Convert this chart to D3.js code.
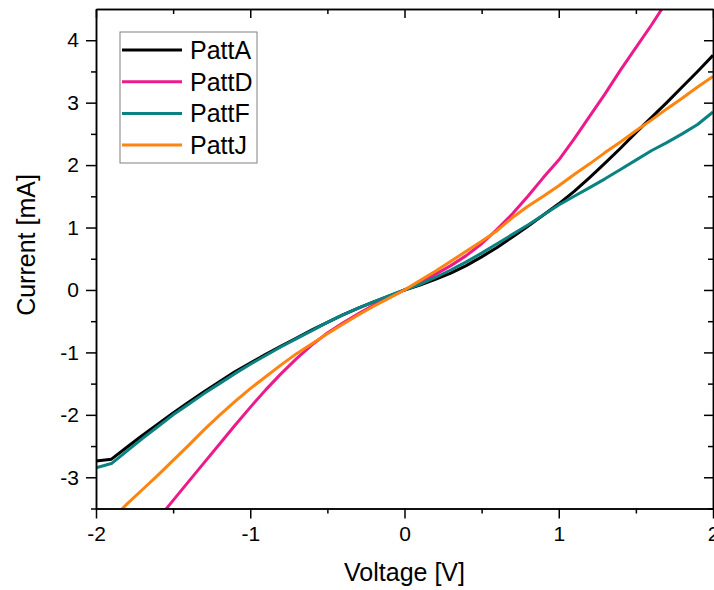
<!DOCTYPE html>
<html>
<head>
<meta charset="utf-8">
<script src="https://cdn.jsdelivr.net/npm/d3@7"></script>
<style>
  body { margin: 0; background: #fff; }
  svg { display: block; font-family: "Liberation Sans", Arial, sans-serif; }
  .axis path, .axis line { stroke: #000; stroke-width: 1.5px; }
  .axis text { font-size: 21px; fill: #000; }
</style>
</head>
<body>
<svg id="chart" width="714" height="590"></svg>
<script>
  'use strict';

  // I-V sweep, voltage in V, current in mA
  var voltage = [-2.0, -1.9, -1.8, -1.7, -1.6, -1.5, -1.4, -1.3, -1.2, -1.1,
                 -1.0, -0.9, -0.8, -0.7, -0.6, -0.5, -0.4, -0.3, -0.2, -0.1,
                  0.0,  0.1,  0.2,  0.3,  0.4,  0.5,  0.6,  0.7,  0.8,  0.9,
                  1.0,  1.1,  1.2,  1.3,  1.4,  1.5,  1.6,  1.7,  1.8,  1.9, 2.0];

  var pattA = [-2.74, -2.71, -2.52, -2.33, -2.15, -1.97, -1.80, -1.63, -1.47, -1.31,
               -1.17, -1.03, -0.90, -0.77, -0.64, -0.52, -0.40, -0.29, -0.19, -0.10,
                0.00,  0.08,  0.17,  0.27,  0.39,  0.53,  0.68,  0.85,  1.02,  1.20,
                1.38,  1.58,  1.80,  2.03,  2.27,  2.52,  2.76,  3.00,  3.25,  3.50, 3.76];

  var pattD = [null, null, null, null, -3.67, -3.37, -3.07, -2.77, -2.47, -2.17,
               -1.88, -1.60, -1.34, -1.10, -0.88, -0.69, -0.53, -0.38, -0.24, -0.12,
                0.00,  0.12,  0.25,  0.39,  0.55,  0.74,  0.97,  1.22,  1.50,  1.80,
                2.08,  2.42,  2.78,  3.14,  3.52,  3.88,  4.24,  4.62, null, null, null];

  var pattF = [-2.85, -2.78, -2.58, -2.38, -2.19, -2.00, -1.83, -1.66, -1.50, -1.34,
               -1.19, -1.05, -0.91, -0.78, -0.65, -0.52, -0.40, -0.29, -0.19, -0.09,
                0.00,  0.09,  0.20,  0.32,  0.45,  0.59,  0.74,  0.89,  1.04,  1.20,
                1.36,  1.50,  1.64,  1.78,  1.93,  2.08,  2.23,  2.36,  2.50,  2.65, 2.85];

  var pattJ = [null, -3.68, -3.43, -3.20, -2.97, -2.73, -2.49, -2.24, -2.01, -1.79,
               -1.58, -1.39, -1.20, -1.02, -0.86, -0.70, -0.55, -0.40, -0.26, -0.13,
                0.00,  0.15,  0.30,  0.46,  0.62,  0.78,  0.95,  1.16,  1.34,  1.50,
                1.67,  1.85,  2.02,  2.20,  2.37,  2.55,  2.72,  2.90,  3.07,  3.25, 3.42];

  var seriesNames = ['PattA', 'PattD', 'PattF', 'PattJ'];
  var seriesValues = [pattA, pattD, pattF, pattJ];
  var seriesColors = ['#000000', '#ec1a8a', '#0a8282', '#ff8410'];

  var xTicks = [-2, -1, 0, 1, 2];
  var xMinorTicks = [-1.5, -0.5, 0.5, 1.5];
  var yTicks = [-3, -2, -1, 0, 1, 2, 3, 4];
  var yMinorTicks = [-3.5, -2.5, -1.5, -0.5, 0.5, 1.5, 2.5, 3.5];

  (function () {
    var plotLeft = 96, plotRight = 713, plotTop = 9, plotBottom = 508.5;

    var svg = d3.select('#chart');

    var x = d3.scaleLinear().domain([-2, 2]).range([plotLeft, plotRight]);
    var y = d3.scaleLinear().domain([-3.5, 4.5]).range([plotBottom, plotTop]);

    svg.append('clipPath')
      .attr('id', 'plot-clip')
      .append('rect')
      .attr('x', plotLeft)
      .attr('y', plotTop)
      .attr('width', plotRight - plotLeft)
      .attr('height', plotBottom - plotTop);

    // curves
    var line = d3.line()
      .defined(function (d) { return d[1] !== null; })
      .x(function (d) { return x(d[0]); })
      .y(function (d) { return y(d[1]); });

    var curves = svg.append('g').attr('clip-path', 'url(#plot-clip)');

    seriesValues.forEach(function (vals, i) {
      curves.append('path')
        .datum(voltage.map(function (v, k) { return [v, vals[k]]; }))
        .attr('fill', 'none')
        .attr('stroke', seriesColors[i])
        .attr('stroke-width', 3)
        .attr('stroke-linejoin', 'round')
        .attr('d', line);
    });

    // axes: major + minor ticks, outward on bottom/left, inward on top/right
    function label(d) { return String(d); }

    function addAxis(axis, tx, ty) {
      return svg.append('g')
        .attr('class', 'axis')
        .attr('transform', 'translate(' + tx + ',' + ty + ')')
        .call(axis);
    }

    addAxis(d3.axisBottom(x).tickValues(xTicks).tickSize(10).tickSizeOuter(0)
      .tickPadding(8).tickFormat(label), 0, plotBottom);
    addAxis(d3.axisBottom(x).tickValues(xMinorTicks).tickSize(5).tickSizeOuter(0)
      .tickFormat(''), 0, plotBottom);
    addAxis(d3.axisLeft(y).tickValues(yTicks).tickSize(10).tickSizeOuter(0)
      .tickPadding(7).tickFormat(label), plotLeft, 0);
    addAxis(d3.axisLeft(y).tickValues(yMinorTicks).tickSize(5).tickSizeOuter(0)
      .tickFormat(''), plotLeft, 0);
    addAxis(d3.axisTop(x).tickValues(xTicks).tickSize(-9).tickSizeOuter(0)
      .tickFormat(''), 0, plotTop);
    addAxis(d3.axisTop(x).tickValues(xMinorTicks).tickSize(-5).tickSizeOuter(0)
      .tickFormat(''), 0, plotTop);
    addAxis(d3.axisRight(y).tickValues(yTicks).tickSize(-9).tickSizeOuter(0)
      .tickFormat(''), plotRight, 0);
    addAxis(d3.axisRight(y).tickValues(yMinorTicks).tickSize(-5).tickSizeOuter(0)
      .tickFormat(''), plotRight, 0);

    // axis titles
    svg.append('text')
      .attr('x', (plotLeft + plotRight) / 2)
      .attr('y', 581)
      .attr('text-anchor', 'middle')
      .style('font-size', '25px')
      .text('Voltage [V]');

    svg.append('text')
      .attr('transform', 'translate(35,245) rotate(-90)')
      .attr('text-anchor', 'middle')
      .style('font-size', '25px')
      .text('Current [mA]');

    // legend
    var legend = svg.append('g').attr('transform', 'translate(120,32)');

    legend.append('rect')
      .attr('width', 137)
      .attr('height', 131)
      .attr('fill', '#fff')
      .attr('stroke', '#808080')
      .attr('stroke-width', 1);

    seriesNames.forEach(function (name, i) {
      var ly = 18 + i * 31.7;
      legend.append('line')
        .attr('x1', 2)
        .attr('x2', 62)
        .attr('y1', ly)
        .attr('y2', ly)
        .attr('stroke', seriesColors[i])
        .attr('stroke-width', 3);
      legend.append('text')
        .attr('x', 70)
        .attr('y', ly)
        .attr('dy', '0.36em')
        .style('font-size', '25px')
        .text(name);
    });
  })();
</script>
</body>
</html>
